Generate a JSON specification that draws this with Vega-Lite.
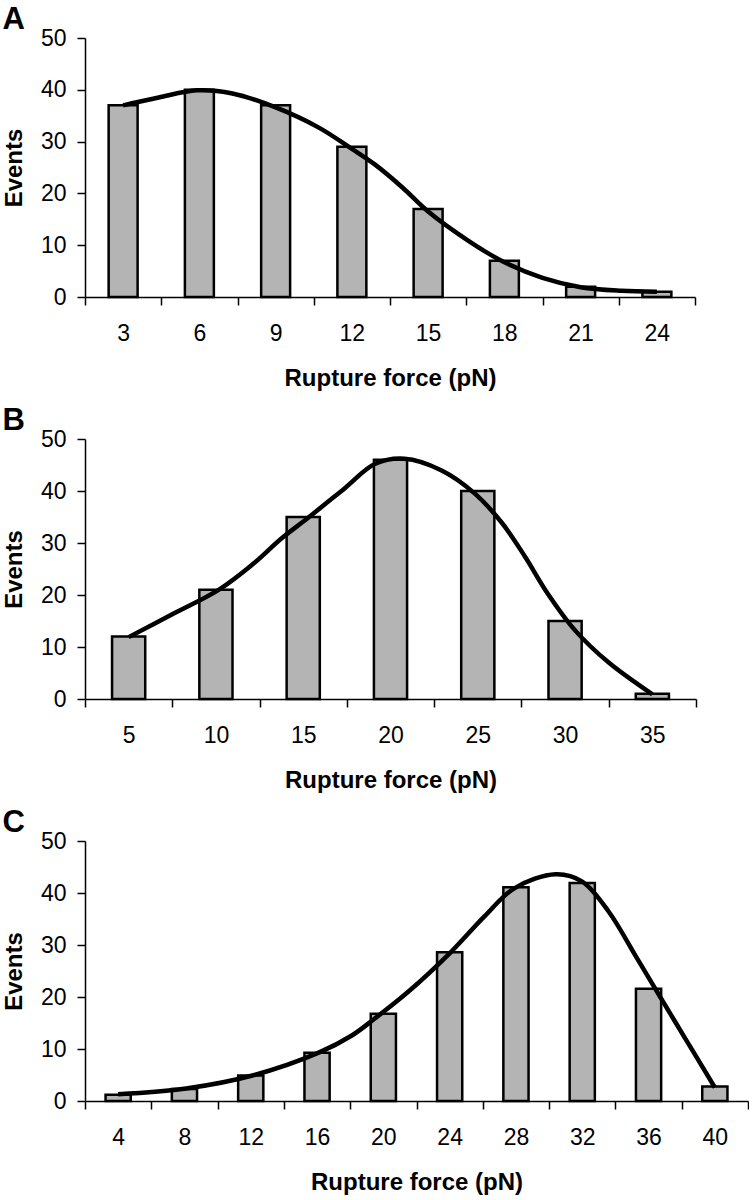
{
  "$schema": "https://vega.github.io/schema/vega-lite/v6.json",
  "padding": {"left": 2, "top": 4, "right": 0, "bottom": 0},
  "background": "white",
  "spacing": 14,
  "config": {
    "font": "Liberation Sans",
    "view": {"stroke": null},
    "axis": {
      "domainColor": "black",
      "domainWidth": 1.5,
      "tickColor": "black",
      "tickWidth": 1.5,
      "tickSize": 8,
      "labelColor": "black",
      "labelFontSize": 23,
      "labelFont": "Liberation Sans",
      "titleColor": "black",
      "titleFontSize": 24,
      "titleFontWeight": "bold",
      "titleFont": "Liberation Sans",
      "grid": false
    },
    "axisX": {"labelAngle": 0, "labelPadding": 17.5, "titlePadding": 21, "tickBand": "extent"},
    "axisY": {"labelPadding": 11, "titlePadding": 14}
  },
  "datasets": {
    "barsA": [
      {"force": 3, "events": 37}, {"force": 6, "events": 40}, {"force": 9, "events": 37}, {"force": 12, "events": 29},
      {"force": 15, "events": 17}, {"force": 18, "events": 7}, {"force": 21, "events": 2}, {"force": 24, "events": 1}
    ],
    "curveA": [
      {"force": 3.0, "events": 37.0}, {"force": 4.4, "events": 38.5}, {"force": 5.9, "events": 39.9}, {"force": 7.3, "events": 39.3},
      {"force": 9.0, "events": 36.6}, {"force": 10.7, "events": 32.7}, {"force": 12.0, "events": 28.6}, {"force": 12.9, "events": 25.6},
      {"force": 14.0, "events": 21.1}, {"force": 15.0, "events": 16.5}, {"force": 16.6, "events": 10.8}, {"force": 18.0, "events": 6.7},
      {"force": 19.5, "events": 3.7}, {"force": 21.0, "events": 1.9}, {"force": 22.6, "events": 1.2}, {"force": 24.0, "events": 1.0}
    ],
    "barsB": [
      {"force": 5, "events": 12}, {"force": 10, "events": 21}, {"force": 15, "events": 35}, {"force": 20, "events": 46},
      {"force": 25, "events": 40}, {"force": 30, "events": 15}, {"force": 35, "events": 1}
    ],
    "curveB": [
      {"force": 5.0, "events": 11.9}, {"force": 7.5, "events": 16.3}, {"force": 10.2, "events": 21.1}, {"force": 12.1, "events": 25.9},
      {"force": 13.8, "events": 31.0}, {"force": 15.3, "events": 34.9}, {"force": 17.4, "events": 40.6}, {"force": 19.1, "events": 45.2},
      {"force": 20.8, "events": 46.2}, {"force": 22.9, "events": 44.0}, {"force": 24.8, "events": 39.6}, {"force": 26.4, "events": 33.8},
      {"force": 27.7, "events": 27.4}, {"force": 29.0, "events": 20.3}, {"force": 30.6, "events": 13.1}, {"force": 32.5, "events": 7.0},
      {"force": 35.0, "events": 0.9}
    ],
    "barsC": [
      {"force": 4, "events": 1.2}, {"force": 8, "events": 2.3}, {"force": 12, "events": 4.9}, {"force": 16, "events": 9.3},
      {"force": 20, "events": 16.8}, {"force": 24, "events": 28.6}, {"force": 28, "events": 41.1}, {"force": 32, "events": 41.9},
      {"force": 36, "events": 21.6}, {"force": 40, "events": 2.8}
    ],
    "curveC": [
      {"force": 4.0, "events": 1.3}, {"force": 8.1, "events": 2.4}, {"force": 12.1, "events": 4.9}, {"force": 16.1, "events": 9.3},
      {"force": 18.1, "events": 12.6}, {"force": 19.5, "events": 15.9}, {"force": 21.5, "events": 21.0}, {"force": 24.0, "events": 28.4},
      {"force": 26.1, "events": 35.5}, {"force": 27.9, "events": 40.9}, {"force": 30.4, "events": 43.6}, {"force": 32.0, "events": 42.2},
      {"force": 33.6, "events": 36.4}, {"force": 35.2, "events": 28.0}, {"force": 36.4, "events": 21.6}, {"force": 38.2, "events": 12.1},
      {"force": 40.0, "events": 2.6}
    ]
  },
  "vconcat": [
    {
      "title": {"text": "A", "fontSize": 31, "fontWeight": "bold", "anchor": "start", "frame": "bounds", "color": "black", "offset": -9, "font": "Liberation Sans"},
      "width": 610,
      "height": 259,
      "resolve": {"scale": {"x": "independent"}},
      "layer": [
        {
          "data": {"name": "barsA"},
          "mark": {"type": "bar", "width": {"band": 0.38}, "fill": "#b4b4b4", "stroke": "black", "strokeWidth": 2.5},
          "encoding": {
            "x": {"field": "force", "type": "ordinal", "scale": {"paddingInner": 0, "paddingOuter": 0}, "title": "Rupture force (pN)"},
            "y": {"field": "events", "type": "quantitative", "scale": {"domain": [0, 50], "nice": false}, "axis": {"values": [0, 10, 20, 30, 40, 50]}, "title": "Events"}
          }
        },
        {
          "data": {"name": "curveA"},
          "mark": {"type": "line", "interpolate": "catmull-rom", "color": "black", "strokeWidth": 4.5},
          "encoding": {
            "x": {"field": "force", "type": "quantitative", "scale": {"domain": [1.5, 25.5], "nice": false, "zero": false}, "axis": null},
            "y": {"field": "events", "type": "quantitative"}
          }
        }
      ]
    },
    {
      "title": {"text": "B", "fontSize": 31, "fontWeight": "bold", "anchor": "start", "frame": "bounds", "color": "black", "offset": -9, "font": "Liberation Sans"},
      "width": 611,
      "height": 260,
      "resolve": {"scale": {"x": "independent"}},
      "layer": [
        {
          "data": {"name": "barsB"},
          "mark": {"type": "bar", "width": {"band": 0.38}, "fill": "#b4b4b4", "stroke": "black", "strokeWidth": 2.5},
          "encoding": {
            "x": {"field": "force", "type": "ordinal", "scale": {"paddingInner": 0, "paddingOuter": 0}, "title": "Rupture force (pN)"},
            "y": {"field": "events", "type": "quantitative", "scale": {"domain": [0, 50], "nice": false}, "axis": {"values": [0, 10, 20, 30, 40, 50]}, "title": "Events"}
          }
        },
        {
          "data": {"name": "curveB"},
          "mark": {"type": "line", "interpolate": "catmull-rom", "color": "black", "strokeWidth": 4.5},
          "encoding": {
            "x": {"field": "force", "type": "quantitative", "scale": {"domain": [2.5, 37.5], "nice": false, "zero": false}, "axis": null},
            "y": {"field": "events", "type": "quantitative"}
          }
        }
      ]
    },
    {
      "title": {"text": "C", "fontSize": 31, "fontWeight": "bold", "anchor": "start", "frame": "bounds", "color": "black", "offset": -9, "font": "Liberation Sans"},
      "width": 663,
      "height": 260,
      "resolve": {"scale": {"x": "independent"}},
      "layer": [
        {
          "data": {"name": "barsC"},
          "mark": {"type": "bar", "width": {"band": 0.38}, "fill": "#b4b4b4", "stroke": "black", "strokeWidth": 2.5},
          "encoding": {
            "x": {"field": "force", "type": "ordinal", "scale": {"paddingInner": 0, "paddingOuter": 0}, "title": "Rupture force (pN)"},
            "y": {"field": "events", "type": "quantitative", "scale": {"domain": [0, 50], "nice": false}, "axis": {"values": [0, 10, 20, 30, 40, 50]}, "title": "Events"}
          }
        },
        {
          "data": {"name": "curveC"},
          "mark": {"type": "line", "interpolate": "catmull-rom", "color": "black", "strokeWidth": 4.5},
          "encoding": {
            "x": {"field": "force", "type": "quantitative", "scale": {"domain": [2, 42], "nice": false, "zero": false}, "axis": null},
            "y": {"field": "events", "type": "quantitative"}
          }
        }
      ]
    }
  ]
}
